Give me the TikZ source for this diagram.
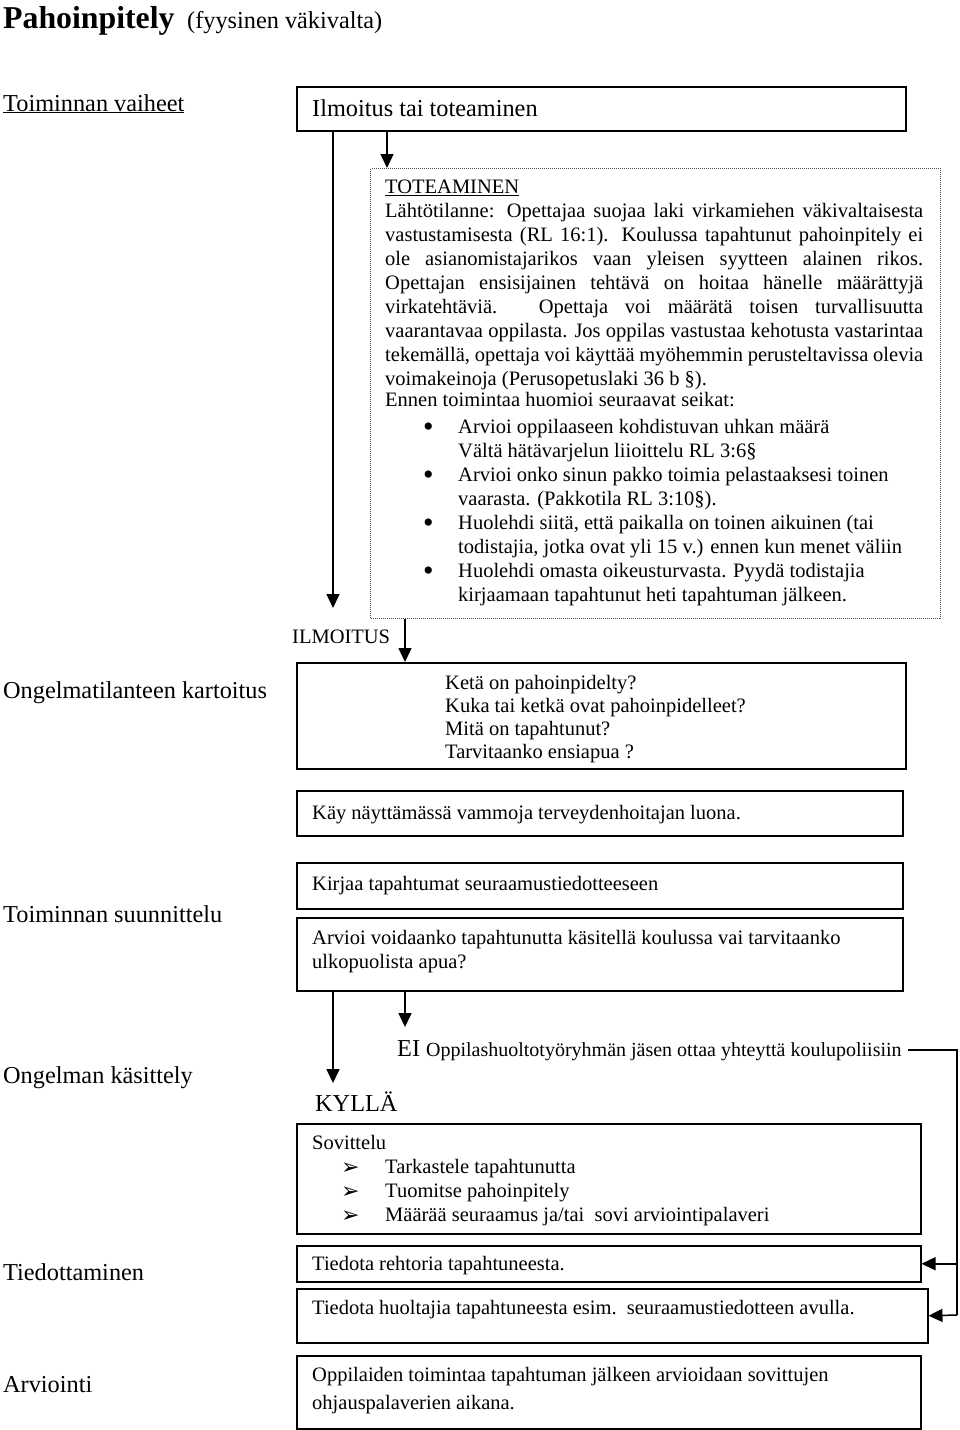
\documentclass[tikz,border=0pt]{standalone}
\usepackage{fontspec}
\setmainfont{Liberation Serif}
\newfontfamily\djv{DejaVu Sans}
\usetikzlibrary{arrows.meta,calc}
\newcommand\fbody{\fontsize{20.5}{24}\selectfont}
\newcommand\flab{\fontsize{24.3}{28}\selectfont}
\newcommand\jl[1]{\makebox[538pt][s]{#1}}
\newcommand\bul{\hspace*{38pt}\makebox[35pt][l]{\raisebox{-2.5pt}{\fontsize{30}{30}\selectfont\textbullet}}}
\newcommand\bulc{\hspace*{73pt}}
\newcommand\arrb{\hspace*{29pt}\makebox[44pt][l]{\raisebox{-1pt}{\djv\fontsize{22}{22}\selectfont ➢}}}
\begin{document}
\begin{tikzpicture}[x=1pt,y=-1pt,
  box/.style={draw,line width=1.5pt,rectangle,anchor=north west,inner sep=0pt},
  dotbox/.style={draw=black!70,line width=1.1pt,dash pattern=on 1pt off 1pt,rectangle,anchor=north west,inner sep=0pt},
  txt/.style={inner sep=0pt,font=\fbody,anchor=base west},
  mtxt/.style={inner sep=0pt,font=\fbody,anchor=north west,align=left},
  lab/.style={inner sep=0pt,font=\flab,anchor=base west},
  arr/.style={line width=1.5pt,-{Triangle[width=13pt,length=14pt]}},
  conn/.style={line width=1.5pt}]
\useasboundingbox (0,0) rectangle (960,1430);

% title
\node[inner sep=0pt,anchor=base west] (title) at (3,28) {\fontsize{31.8}{36}\selectfont\bfseries Pahoinpitely};
\node[inner sep=0pt,anchor=base west] (subt) at (187,28) {\fontsize{24.3}{28}\selectfont (fyysinen väkivalta)};

% left column labels
\node[lab] (l1) at (3,111) {\underline{Toiminnan vaiheet}};
\node[lab] (l2) at (3,698) {Ongelmatilanteen kartoitus};
\node[lab] (l3) at (3,922) {Toiminnan suunnittelu};
\node[lab] (l4) at (3,1083) {Ongelman käsittely};
\node[lab] (l5) at (3,1280) {Tiedottaminen};
\node[lab] (l6) at (3,1392) {Arviointi};

% boxes
\node[box,minimum width=609pt,minimum height=44pt] (ilm) at (296,86) {};
\node[lab] (ilmT) at (312,116) {Ilmoitus tai toteaminen};

\node[dotbox,minimum width=570pt,minimum height=450pt] (tot) at (370,168) {};
\node[mtxt] (totT) at (385,176.5) {\strut\underline{TOTEAMINEN}\\
\jl{Lähtötilanne: Opettajaa suojaa laki virkamiehen väkivaltaisesta}\\
\jl{vastustamisesta (RL 16:1). Koulussa tapahtunut pahoinpitely ei}\\
\jl{ole asianomistajarikos vaan yleisen syytteen alainen rikos.}\\
\jl{Opettajan ensisijainen tehtävä on hoitaa hänelle määrättyjä}\\
\jl{virkatehtäviä. Opettaja voi määrätä toisen turvallisuutta}\\
\jl{vaarantavaa oppilasta. Jos oppilas vastustaa kehotusta vastarintaa}\\
\jl{tekemällä, opettaja voi käyttää myöhemmin perusteltavissa olevia}\\
voimakeinoja (Perusopetuslaki 36 b §).\\[-3pt]
Ennen toimintaa huomioi seuraavat seikat:\\[3pt]
\bul Arvioi oppilaaseen kohdistuvan uhkan määrä\\
\bulc Vältä hätävarjelun liioittelu RL 3:6§\\
\bul Arvioi onko sinun pakko toimia pelastaaksesi toinen\\
\bulc vaarasta. (Pakkotila RL 3:10§).\\
\bul Huolehdi siitä, että paikalla on toinen aikuinen (tai\\
\bulc todistajia, jotka ovat yli 15 v.) ennen kun menet väliin\\
\bul Huolehdi omasta oikeusturvasta. Pyydä todistajia\\
\bulc kirjaamaan tapahtunut heti tapahtuman jälkeen.};

\node[txt] (ilmo) at (292,643) {ILMOITUS};

\node[box,minimum width=609pt,minimum height=106pt] (ket) at (296,662) {};
\node[mtxt,font=\fontsize{20.5}{23}\selectfont] (ketT) at (445,672.9) {\strut Ketä on pahoinpidelty?\\
Kuka tai ketkä ovat pahoinpidelleet?\\
Mitä on tapahtunut?\\
Tarvitaanko ensiapua ?};

\node[box,minimum width=606pt,minimum height=45pt] (kay) at (296,790) {};
\node[txt] (kayT) at (312,819) {Käy näyttämässä vammoja terveydenhoitajan luona.};

\node[box,minimum width=606pt,minimum height=46pt] (kir) at (296,862) {};
\node[txt] (kirT) at (312,890) {Kirjaa tapahtumat seuraamustiedotteeseen};

\node[box,minimum width=606pt,minimum height=73pt] (arv) at (296,917) {};
\node[mtxt] (arvT) at (312,927.2) {\strut Arvioi voidaanko tapahtunutta käsitellä koulussa vai tarvitaanko\\
ulkopuolista apua?};

\node[lab] (kyl) at (315,1111) {KYLLÄ};
\node[inner sep=0pt,anchor=base west] (eiT) at (397,1056) {{\flab EI}\hspace{6pt}{\fontsize{20}{24}\selectfont Oppilashuoltotyöryhmän jäsen ottaa yhteyttä koulupoliisiin}};

\node[box,minimum width=624pt,minimum height=110pt] (sov) at (296,1123) {};
\node[mtxt] (sovT) at (312,1132.2) {\strut Sovittelu\\
\arrb Tarkastele tapahtunutta\\
\arrb Tuomitse pahoinpitely\\
\arrb Määrää seuraamus ja/tai\ \ sovi arviointipalaveri};

\node[box,minimum width=624pt,minimum height=36pt] (reh) at (296,1245) {};
\node[txt] (rehT) at (312,1270) {Tiedota rehtoria tapahtuneesta.};

\node[box,minimum width=631pt,minimum height=54pt] (huo) at (296,1288) {};
\node[txt] (huoT) at (312,1314) {Tiedota huoltajia tapahtuneesta esim.\ \ seuraamustiedotteen avulla.};

\node[box,minimum width=624pt,minimum height=73pt] (opp) at (296,1355) {};
\node[mtxt,font=\fontsize{20.5}{28}\selectfont] (oppT) at (312,1361.4) {\strut Oppilaiden toimintaa tapahtuman jälkeen arvioidaan sovittujen\\
ohjauspalaverien aikana.};

% connectors
\coordinate (xa) at (333,0);
\coordinate (xb) at (387,0);
\coordinate (xc) at (405,0);
\coordinate (lend) at (333,608);
\coordinate (kend) at (333,1083);
\coordinate (eend) at (405,1027);
\coordinate (rl) at (957,1315);
\draw[arr] (ilm.south -| xa) -- (lend);
\draw[arr] (ilm.south -| xb) -- (tot.north -| xb);
\draw[arr] (tot.south -| xc) -- (ket.north -| xc);
\draw[arr] (arv.south -| xa) -- (kend);
\draw[arr] (arv.south -| xc) -- (eend);
\draw[conn] ($(eiT.east)+(6,0)$) -| (rl);
\draw[arr] (reh.east -| rl) -- (reh.east);
\draw[arr] (rl) -- (huo.east);
\end{tikzpicture}
\end{document}
